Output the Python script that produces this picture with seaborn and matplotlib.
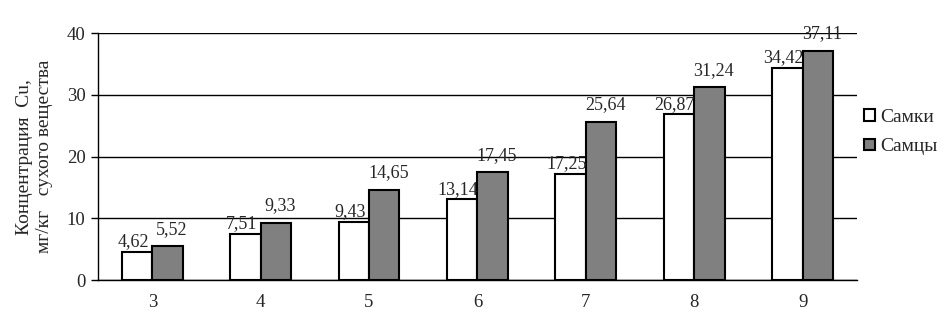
import matplotlib
matplotlib.use("Agg")
import matplotlib.pyplot as plt
import seaborn as sns
import pandas as pd
from matplotlib.patches import Patch

categories = ["3", "4", "5", "6", "7", "8", "9"]
females = [4.62, 7.51, 9.43, 13.14, 17.25, 26.87, 34.42]
males = [5.52, 9.33, 14.65, 17.45, 25.64, 31.24, 37.11]
series_names = ["Самки", "Самцы"]

df = pd.DataFrame({
    "cat": categories * 2,
    "val": females + males,
    "sex": [series_names[0]] * len(categories) + [series_names[1]] * len(categories),
})

sns.set_style("white")
plt.rcParams["font.family"] = ["Liberation Serif", "DejaVu Serif"]

fig = plt.figure(figsize=(9.52, 3.18), dpi=100)
ax = fig.add_axes([0.103, 0.119, 0.797, 0.777])

sns.barplot(data=df, x="cat", y="val", hue="sex", order=categories,
            hue_order=series_names, palette=["white", "#808080"],
            edgecolor="black", linewidth=1.5, width=0.56, ax=ax,
            legend=False, zorder=3)

ax.set_ylim(0, 40)
ax.set_yticks([0, 10, 20, 30, 40])
ax.set_xlim(-0.5, len(categories) - 0.5)
ax.yaxis.grid(True, color="black", linewidth=1)
ax.set_axisbelow(True)
for s in ["top", "right"]:
    ax.spines[s].set_visible(False)
ax.spines["left"].set_color("black")
ax.spines["bottom"].set_color("black")
ax.spines["left"].set_linewidth(1)
ax.spines["bottom"].set_linewidth(1)

ax.set_xticks(range(len(categories)))
ax.set_xticklabels(categories, fontsize=13.5)
ax.tick_params(axis="x", length=0, pad=10)
ax.set_xticks([i - 0.5 for i in range(len(categories) + 1)], minor=True)
ax.tick_params(axis="x", which="minor", length=5, color="black", width=1, direction="out")
ax.tick_params(axis="y", length=5, color="black", width=1, direction="out", labelsize=13.5, left=True, pad=4)
ax.set_xlabel("")
ax.set_ylabel("Концентрация  Cu,\nмг/кг   сухого вещества", fontsize=14, labelpad=10, linespacing=1.2)

containers = ax.containers
for cont, vals, dx, pad in [(containers[0], females, -3, 1), (containers[1], males, 3, 6)]:
    for bar, v in zip(cont, vals):
        ax.annotate(f"{v:.2f}".replace(".", ","),
                    (bar.get_x() + bar.get_width() / 2, bar.get_height()),
                    xytext=(dx, pad), textcoords="offset points",
                    ha="center", va="bottom", fontsize=13, clip_on=False)

handles = [Patch(facecolor="white", edgecolor="black", linewidth=1.5),
           Patch(facecolor="#808080", edgecolor="black", linewidth=1.5)]
fig.legend(handles, series_names, loc="center left", bbox_to_anchor=(0.908, 0.585),
           frameon=False, fontsize=14, handlelength=0.55, handleheight=0.55,
           handletextpad=0.25, labelspacing=0.65, borderpad=0, borderaxespad=0)

fig.savefig("out.png", dpi=100)
